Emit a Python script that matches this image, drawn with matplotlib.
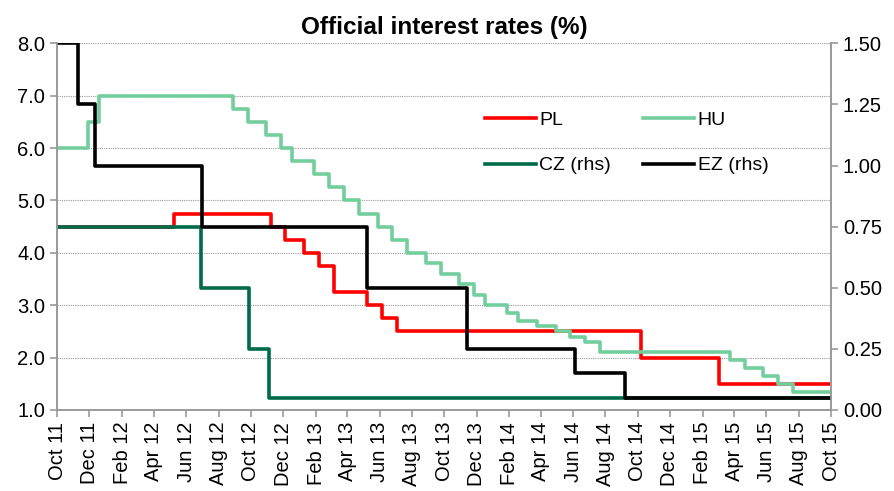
import pandas as pd
import matplotlib
matplotlib.use("Agg")
import matplotlib.pyplot as plt
import matplotlib.dates as mdates
from matplotlib.ticker import FormatStrFormatter

plt.rcParams['font.family'] = ['Liberation Sans', 'DejaVu Sans']

start = "2011-10-01"
end = "2015-10-01"

# policy rate changes (date, level)
pl_dates = [start, "2012-05-08", "2012-11-07", "2012-12-05", "2013-01-09", "2013-02-06",
            "2013-03-06", "2013-05-08", "2013-06-05", "2013-07-03", "2014-10-08", "2015-03-04"]
pl_rates = [4.50, 4.75, 4.50, 4.25, 4.00, 3.75, 3.25, 3.00, 2.75, 2.50, 2.00, 1.50]

hu_dates = [start, "2011-11-29", "2011-12-20", "2012-08-28", "2012-09-25", "2012-10-30",
            "2012-11-27", "2012-12-18", "2013-01-29", "2013-02-26", "2013-03-26", "2013-04-23",
            "2013-05-28", "2013-06-25", "2013-07-23", "2013-08-27", "2013-09-24", "2013-10-29",
            "2013-11-26", "2013-12-17", "2014-01-28", "2014-02-18", "2014-03-25", "2014-04-29",
            "2014-05-27", "2014-06-24", "2014-07-22", "2015-03-24", "2015-04-21", "2015-05-26",
            "2015-06-23", "2015-07-21"]
hu_rates = [6.00, 6.50, 7.00, 6.75, 6.50, 6.25, 6.00, 5.75, 5.50, 5.25, 5.00, 4.75,
            4.50, 4.25, 4.00, 3.80, 3.60, 3.40, 3.20, 3.00, 2.85, 2.70, 2.60, 2.50,
            2.40, 2.30, 2.10, 1.95, 1.80, 1.65, 1.50, 1.35]

cz_dates = [start, "2012-06-29", "2012-09-28", "2012-11-05"]
cz_rates = [0.75, 0.50, 0.25, 0.05]

ez_dates = [start, "2011-11-09", "2011-12-12", "2012-06-30", "2013-05-08", "2013-11-13",
            "2014-06-04", "2014-09-08"]
ez_rates = [1.50, 1.25, 1.00, 0.75, 0.50, 0.25, 0.15, 0.05]


def series(dates, rates):
    d = pd.to_datetime(list(dates) + [end])
    return d, list(rates) + [rates[-1]]


fig = plt.figure(figsize=(8.95, 4.91), dpi=100)
ax = fig.add_axes([0.0637, 0.165, 0.8648, 0.7467])
ax2 = ax.twinx()

lw = 2.6
l_pl, = ax.step(*series(pl_dates, pl_rates), where="post", color="#ff0000", lw=lw, label="PL")
l_hu, = ax.step(*series(hu_dates, hu_rates), where="post", color="#72cf9d", lw=lw, label="HU")
l_cz, = ax2.step(*series(cz_dates, cz_rates), where="post", color="#006b4a", lw=lw, label="CZ (rhs)")
l_ez, = ax2.step(*series(ez_dates, ez_rates), where="post", color="#000000", lw=lw, label="EZ (rhs)")

ax.set_xlim(pd.Timestamp(start), pd.Timestamp(end))
ax.set_ylim(1.0, 8.0)
ax2.set_ylim(0.0, 1.5)
ax.set_yticks([1, 2, 3, 4, 5, 6, 7, 8])
ax2.set_yticks([0, 0.25, 0.5, 0.75, 1.0, 1.25, 1.5])
ax.yaxis.set_major_formatter(FormatStrFormatter("%.1f"))
ax2.yaxis.set_major_formatter(FormatStrFormatter("%.2f"))

ax.xaxis.set_major_locator(mdates.MonthLocator(bymonth=[2, 4, 6, 8, 10, 12]))
ax.xaxis.set_major_formatter(mdates.DateFormatter("%b %y"))
for lab in ax.get_xticklabels():
    lab.set_rotation(90)

ax.grid(axis="y", color="#9a9a9a", linestyle=(0, (1, 1)), lw=0.8)
ax.set_axisbelow(True)

for a in (ax, ax2):
    a.spines["top"].set_visible(False)
    for s in ("left", "right", "bottom"):
        a.spines[s].set_color("#9a9a9a")
        a.spines[s].set_linewidth(1.2)
    a.tick_params(axis="both", labelsize=14.5, color="#9a9a9a", length=5, width=1.2, direction="out")

ax.set_title("Official interest rates (%)", fontsize=17.5, fontweight="bold", pad=7)

ax2.legend([l_pl, l_cz, l_hu, l_ez], ["PL", "CZ (rhs)", "HU", "EZ (rhs)"], ncol=2,
           frameon=False, fontsize=14, loc="upper left",
           bbox_to_anchor=(485 / 895, 1 - 111 / 491), bbox_transform=fig.transFigure,
           borderpad=0, borderaxespad=0, handlelength=2.6, handletextpad=0.2,
           columnspacing=1.65, labelspacing=1.45)

fig.savefig("out.png", dpi=100)
plt.close(fig)
